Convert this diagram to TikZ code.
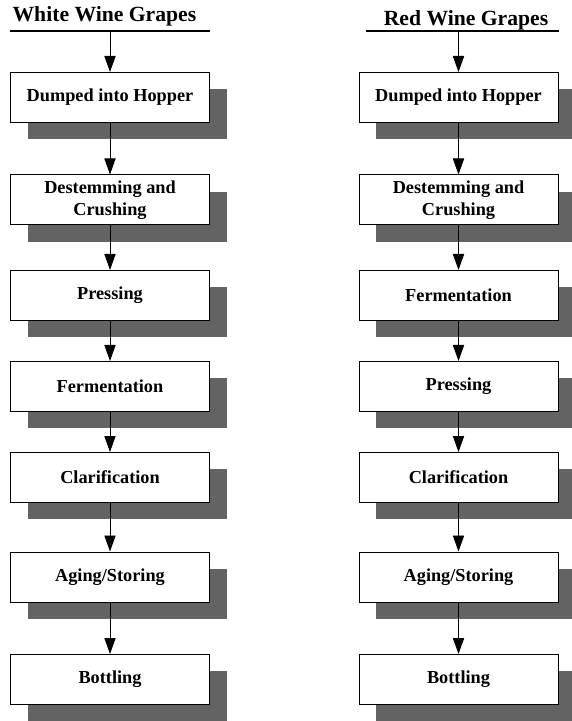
\documentclass[tikz,border=0pt]{standalone}
\usepackage{fontspec}
\setmainfont{Liberation Serif}
\usepackage{xcolor}
\usepackage{tikz}
\usetikzlibrary{arrows.meta,shadows}
\definecolor{shadowgray}{HTML}{636363}
\tikzset{
  stepbox/.style={
    draw=black,
    line width=0.7pt,
    fill=white,
    align=center,
    font=\fontsize{13}{15.6}\selectfont\bfseries,
    minimum width=4.975cm,
    minimum height=1.25cm,
    inner sep=0pt,
    drop shadow={shadow xshift=0.425cm, shadow yshift=-0.425cm, fill=shadowgray, opacity=1}
  },
  flow/.style={line width=0.7pt, -{Triangle[length=0.4cm, width=0.28cm]}},
  headline/.style={line width=1.4pt},
  heading/.style={font=\fontsize{15.4}{18}\selectfont\bfseries, anchor=base, inner sep=0pt}
}

\begin{document}
\begin{tikzpicture}[x=1cm,y=1cm]
\path[use as bounding box] (0,0) rectangle (14.275,18.025);
\fill[white] (0,0) rectangle (14.275,18.025);

% white wine
\node[heading] (whead) at (2.61,17.475) {White Wine Grapes};
\draw[headline] (0.25,17.25) -- (5.25,17.25);
\coordinate (wtop) at (2.75,17.25);

\node[stepbox] (wdump) at (2.75,15.5875) {Dumped into Hopper};
\node[stepbox] (wdestem) at (2.75,13.025) {Destemming and\\Crushing};
\node[stepbox] (wpress) at (2.75,10.6375) {Pressing};
\node[stepbox] (wferm) at (2.75,8.3625) {Fermentation};
\node[stepbox] (wclar) at (2.75,6.0875) {Clarification};
\node[stepbox] (waging) at (2.75,3.6) {Aging/Storing};
\node[stepbox] (wbottle) at (2.75,1.0375) {Bottling};

\draw[flow] (wtop) -- (wdump);
\draw[flow] (wdump) -- (wdestem);
\draw[flow] (wdestem) -- (wpress);
\draw[flow] (wpress) -- (wferm);
\draw[flow] (wferm) -- (wclar);
\draw[flow] (wclar) -- (waging);
\draw[flow] (waging) -- (wbottle);

% red wine
\node[heading] (rhead) at (11.65,17.375) {Red Wine Grapes};
\draw[headline] (9.15,17.25) -- (13.975,17.25);
\coordinate (rtop) at (11.4625,17.25);

\node[stepbox] (rdump) at (11.4625,15.5875) {Dumped into Hopper};
\node[stepbox] (rdestem) at (11.4625,13.025) {Destemming and\\Crushing};
\node[stepbox] (rferm) at (11.4625,10.6375) {Fermentation};
\node[stepbox] (rpress) at (11.4625,8.3625) {Pressing};
\node[stepbox] (rclar) at (11.4625,6.0875) {Clarification};
\node[stepbox] (raging) at (11.4625,3.6) {Aging/Storing};
\node[stepbox] (rbottle) at (11.4625,1.0375) {Bottling};

\draw[flow] (rtop) -- (rdump);
\draw[flow] (rdump) -- (rdestem);
\draw[flow] (rdestem) -- (rferm);
\draw[flow] (rferm) -- (rpress);
\draw[flow] (rpress) -- (rclar);
\draw[flow] (rclar) -- (raging);
\draw[flow] (raging) -- (rbottle);
\end{tikzpicture}
\end{document}
